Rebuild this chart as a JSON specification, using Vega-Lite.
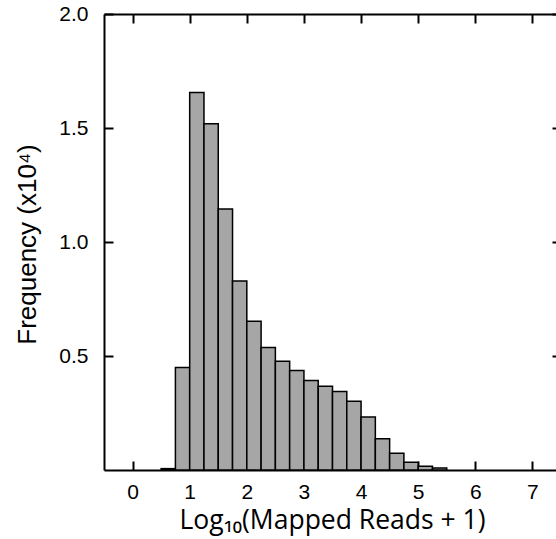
{
  "$schema": "https://vega.github.io/schema/vega-lite/v6.json",
  "width": 457,
  "height": 456,
  "autosize": {"type": "none"},
  "padding": {"left": 104, "top": 14, "right": 0, "bottom": 69},
  "background": "white",
  "config": {
    "view": {"stroke": null},
    "axis": {
      "domainColor": "#000",
      "domainWidth": 2,
      "tickColor": "#000",
      "tickWidth": 2,
      "tickSize": -9,
      "grid": false,
      "labelFont": "Liberation Sans",
      "labelFontSize": 21,
      "labelColor": "#000",
      "titleColor": "#000",
      "titleFontWeight": "normal"
    }
  },
  "data": {
    "values": [
      {"start": 0.5, "end": 0.75, "freq": 0.006},
      {"start": 0.75, "end": 1.0, "freq": 0.45},
      {"start": 1.0, "end": 1.25, "freq": 1.656},
      {"start": 1.25, "end": 1.5, "freq": 1.519},
      {"start": 1.5, "end": 1.75, "freq": 1.145},
      {"start": 1.75, "end": 2.0, "freq": 0.829},
      {"start": 2.0, "end": 2.25, "freq": 0.652},
      {"start": 2.25, "end": 2.5, "freq": 0.537},
      {"start": 2.5, "end": 2.75, "freq": 0.477},
      {"start": 2.75, "end": 3.0, "freq": 0.436},
      {"start": 3.0, "end": 3.25, "freq": 0.392},
      {"start": 3.25, "end": 3.5, "freq": 0.367},
      {"start": 3.5, "end": 3.75, "freq": 0.344},
      {"start": 3.75, "end": 4.0, "freq": 0.301},
      {"start": 4.0, "end": 4.25, "freq": 0.232},
      {"start": 4.25, "end": 4.5, "freq": 0.137},
      {"start": 4.5, "end": 4.75, "freq": 0.073},
      {"start": 4.75, "end": 5.0, "freq": 0.034},
      {"start": 5.0, "end": 5.25, "freq": 0.016},
      {"start": 5.25, "end": 5.5, "freq": 0.009}
    ]
  },
  "layer": [
    {
      "mark": {"type": "bar", "fill": "#a6a6a6", "stroke": "#000", "strokeWidth": 1.5},
      "encoding": {
        "x": {
          "field": "start",
          "type": "quantitative",
          "scale": {"domain": [-0.5, 7.5], "nice": false, "zero": false},
          "axis": {
            "orient": "bottom",
            "values": [0, 1, 2, 3, 4, 5, 6, 7],
            "labelPadding": 20,
            "title": "Log₁₀(Mapped Reads + 1)",
            "titleFont": "Open Sans",
            "titleFontSize": 26.5,
            "titleX": 228,
            "titleY": 58,
            "titleAlign": "center",
            "titleBaseline": "alphabetic"
          }
        },
        "x2": {"field": "end"},
        "y": {
          "field": "freq",
          "type": "quantitative",
          "scale": {"domain": [0, 2], "nice": false},
          "axis": {
            "orient": "left",
            "values": [0.5, 1.0, 1.5, 2.0],
            "format": ".1f",
            "labelPadding": 25,
            "title": "Frequency (x10⁴)",
            "titleFont": "Liberation Sans",
            "titleFontSize": 26,
            "titleAngle": -90,
            "titleX": -77,
            "titleY": 230,
            "titleAlign": "center",
            "titleBaseline": "middle"
          }
        },
        "y2": {"datum": 0}
      }
    },
    {
      "mark": {"type": "rule", "opacity": 0},
      "encoding": {
        "x": {
          "field": "start",
          "type": "quantitative",
          "scale": {"domain": [-0.5, 7.5], "nice": false, "zero": false},
          "axis": {"orient": "top", "values": [0, 1, 2, 3, 4, 5, 6, 7], "labels": false, "title": null}
        },
        "y": {
          "field": "freq",
          "type": "quantitative",
          "scale": {"domain": [0, 2], "nice": false},
          "axis": {"orient": "right", "values": [0.5, 1.0, 1.5, 2.0], "labels": false, "title": null}
        }
      }
    }
  ],
  "resolve": {"axis": {"x": "independent", "y": "independent"}}
}
